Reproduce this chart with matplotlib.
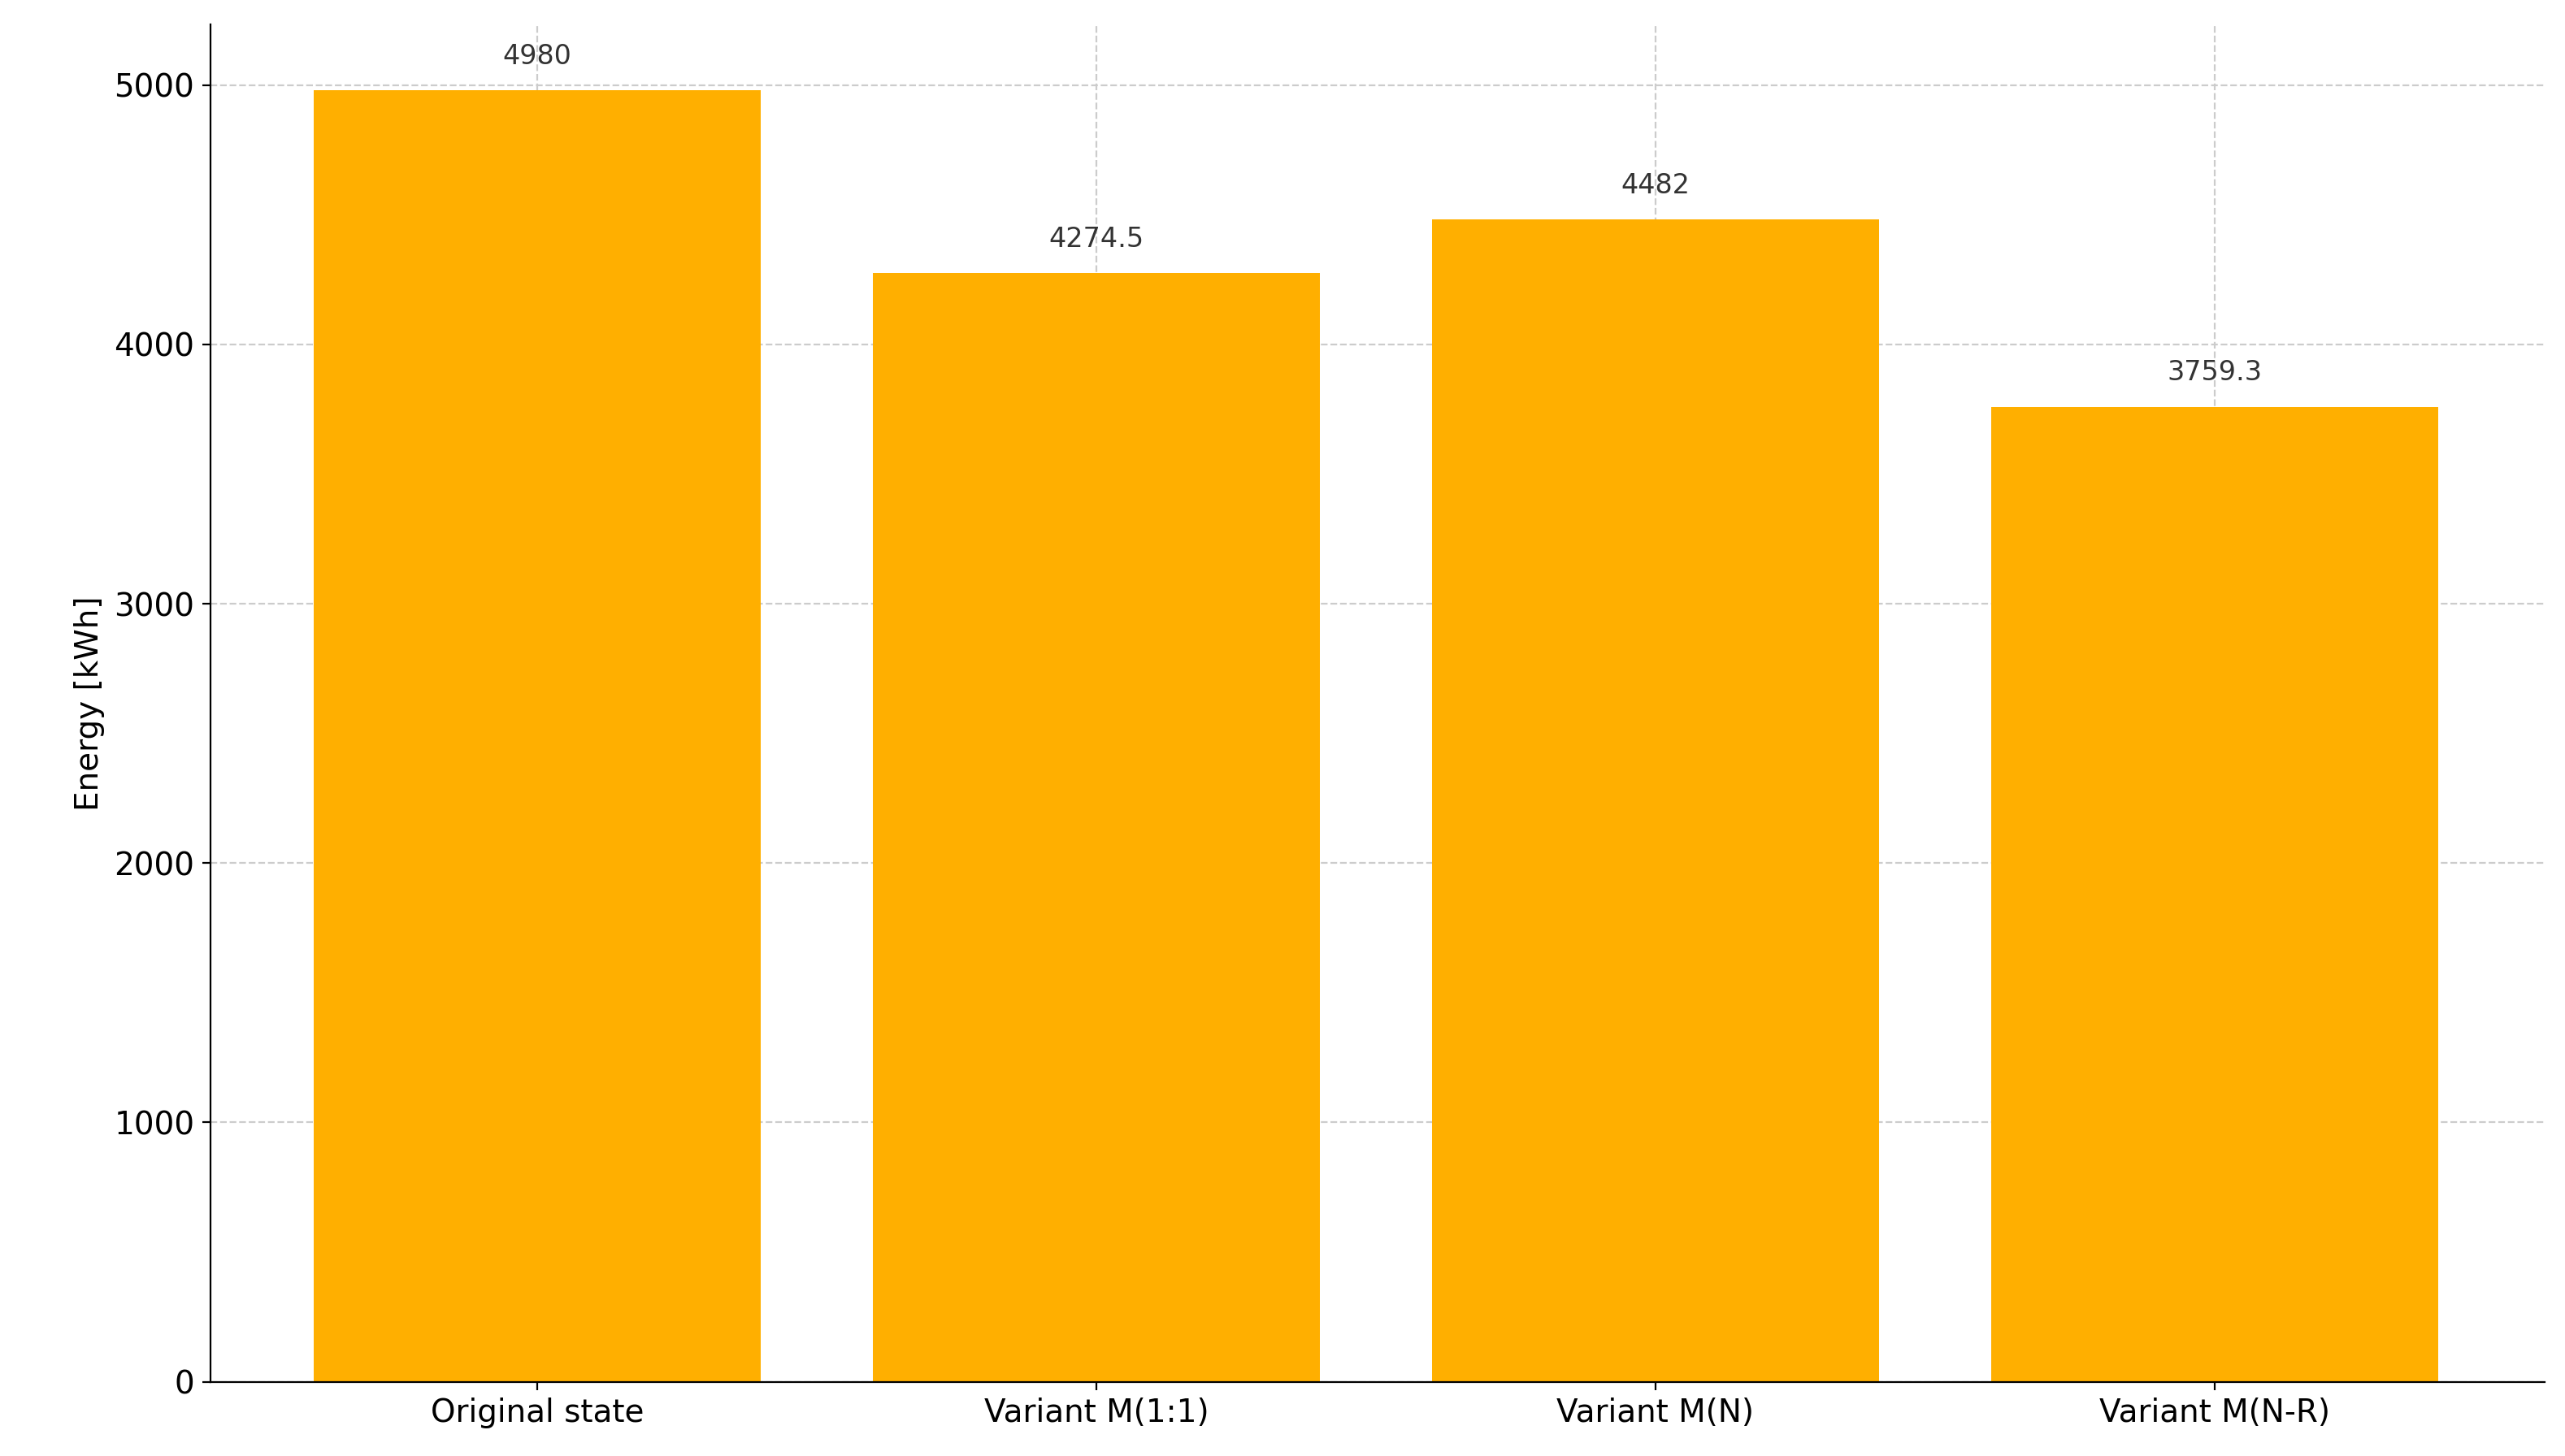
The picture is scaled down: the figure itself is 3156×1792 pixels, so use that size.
import matplotlib
matplotlib.use("Agg")
import matplotlib.pyplot as plt

categories = ["Original state", "Variant M(1:1)", "Variant M(N)", "Variant M(N-R)"]
energy = [4980, 4274.5, 4482, 3759.3]
labels = ["4980", "4274.5", "4482", "3759.3"]

fig = plt.figure(figsize=(15.78, 8.96), dpi=200)
ax = fig.add_axes([0.082, 0.051, 0.910, 0.932])
x = range(len(categories))
ax.bar(x, energy, width=0.8, color="#FFAF00", zorder=2)
for xi, v, t in zip(x, energy, labels):
    ax.text(xi, v + 80, t, ha="center", va="bottom", fontsize=12, color="#333333", zorder=3)

ax.set_xticks(list(x))
ax.set_xticklabels(categories, fontsize=14)
ax.tick_params(axis="y", labelsize=14)
ax.set_ylabel("Energy [kWh]", fontsize=14)
ax.set_xlim(-0.585, 3.59)
ax.set_ylim(0, 5233)
ax.grid(True, linestyle="--", color="#cccccc", linewidth=0.8, zorder=3)
ax.spines["top"].set_visible(False)
ax.spines["right"].set_visible(False)
fig.savefig("out.png", dpi=200)
